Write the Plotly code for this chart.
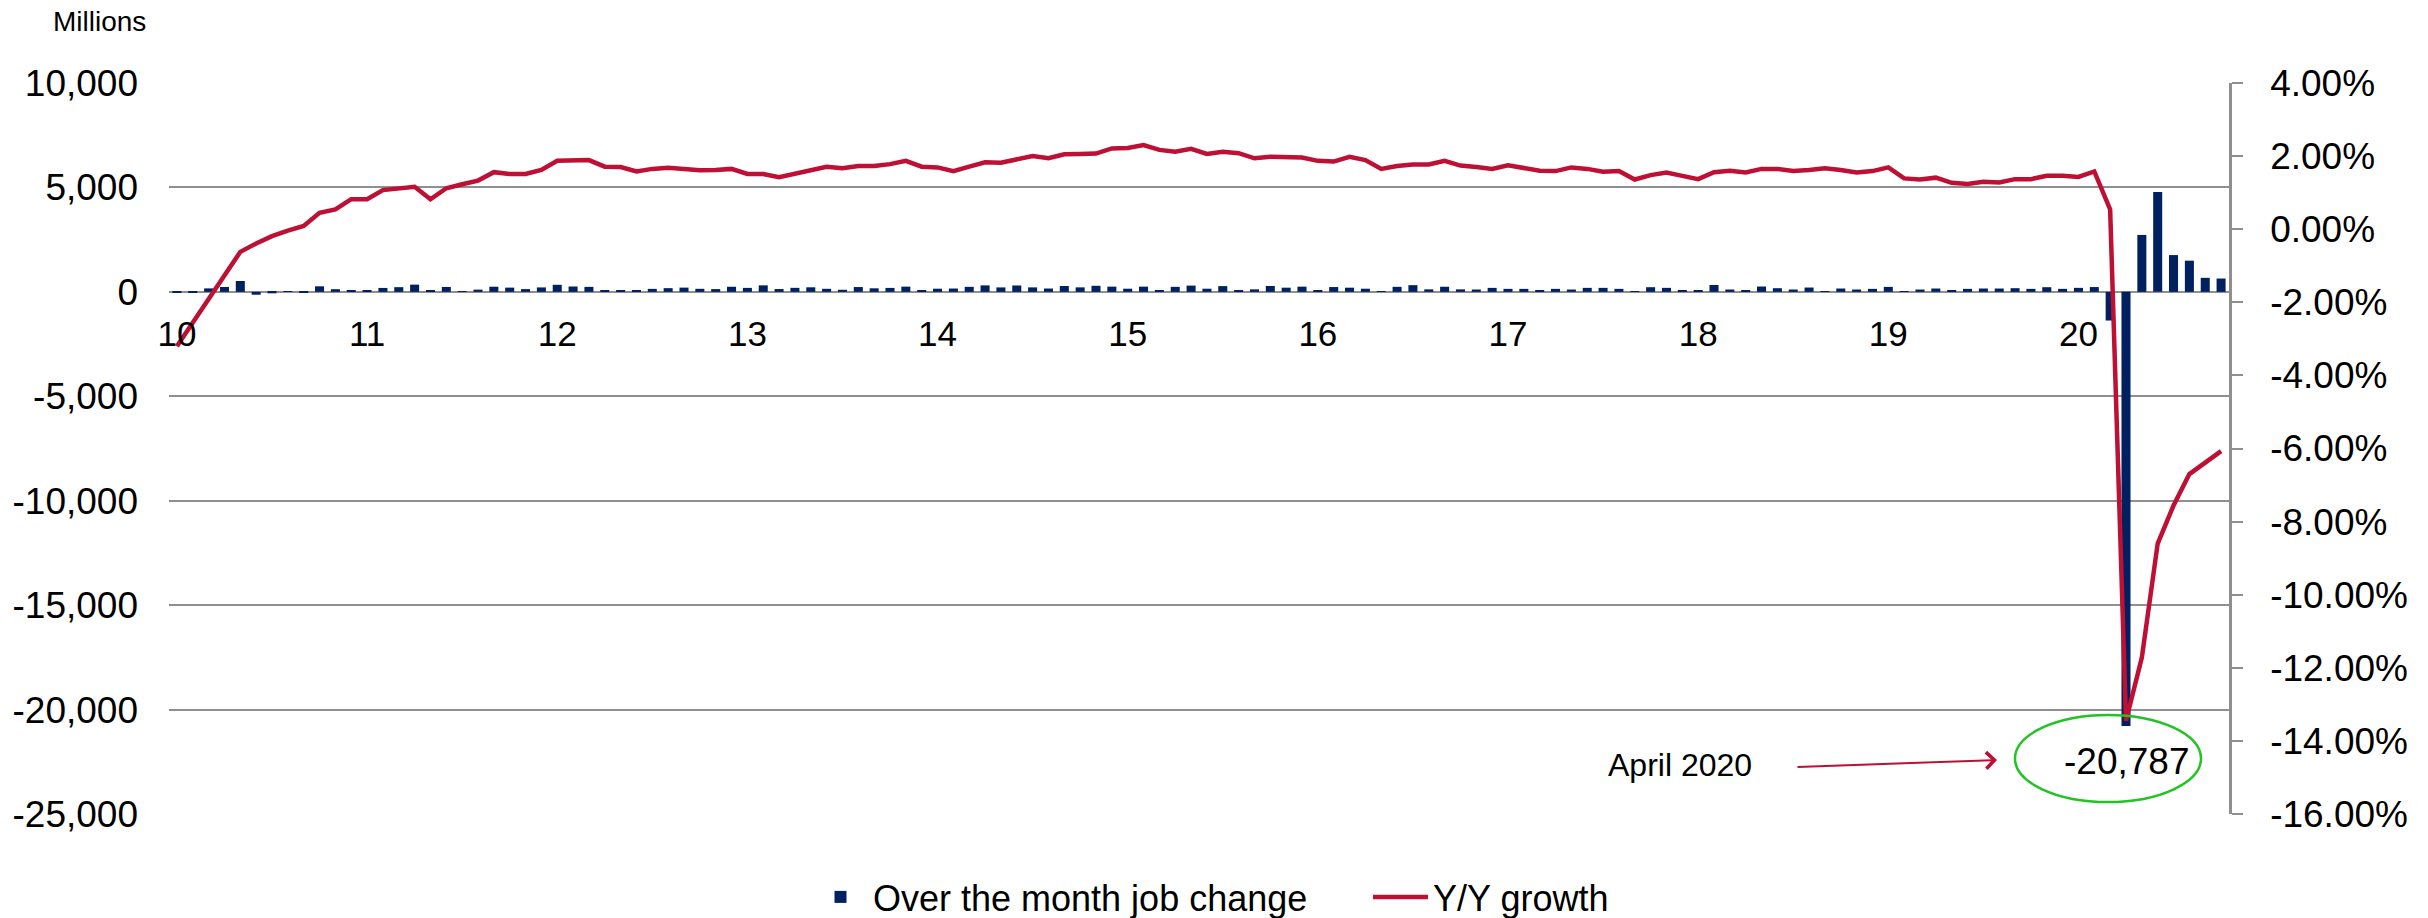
import plotly.graph_objects as go

# ---------------- data ----------------
YEAR_LABELS = ["10", "11", "12", "13", "14", "15", "16", "17", "18", "19", "20"]
YEAR_START_INDEX = [0, 12, 24, 36, 48, 60, 72, 84, 96, 108, 120]

# month index 0 = Jan 2010 ... 129 = Oct 2020
JOB_CHANGE = [
    # 2010
    -14, -39, 166, 234, 520, -137, -69, -4, -53, 265, 127, 88,
    # 2011
    42, 188, 225, 346, 73, 235, 40, 107, 246, 203, 132, 212,
    # 2012
    338, 257, 239, 75, 90, 87, 143, 177, 203, 146, 132, 244,
    # 2013
    190, 311, 135, 192, 218, 146, 100, 230, 170, 189, 250, 45,
    # 2014
    150, 160, 240, 310, 213, 306, 215, 160, 280, 215, 290, 250,
    # 2015
    150, 250, 50, 240, 300, 150, 275, 90, 120, 280, 200, 250,
    # 2016
    60, 230, 200, 150, 20, 240, 320, 120, 245, 120, 112, 190,
    # 2017
    143, 143, 80, 143, 112, 191, 191, 143, 18, 223, 191, 80,
    # 2018
    80, 330, 112, 80, 255, 175, 112, 207, 30, 160, 112, 143,
    # 2019
    239, 1, 112, 160, 50, 143, 160, 160, 175, 143, 223, 143,
    # 2020
    191, 230, -1373, -20787, 2725, 4781, 1761, 1493, 672, 638,
]

YOY_GROWTH = [
    # 2010
    -3.2, -2.55, -1.9, -1.25, -0.62, -0.39, -0.19, -0.04, 0.09, 0.45, 0.54, 0.82,
    # 2011
    0.82, 1.07, 1.12, 1.16, 0.82, 1.12, 1.23, 1.33, 1.56, 1.51, 1.51, 1.62,
    # 2012
    1.87, 1.89, 1.89, 1.71, 1.70, 1.58, 1.65, 1.68, 1.65, 1.61, 1.62, 1.65,
    # 2013
    1.51, 1.51, 1.42, 1.51, 1.62, 1.71, 1.67, 1.73, 1.73, 1.78, 1.87, 1.71,
    # 2014
    1.69, 1.59, 1.71, 1.83, 1.82, 1.92, 2.00, 1.94, 2.05, 2.06, 2.07, 2.21,
    # 2015
    2.22, 2.30, 2.17, 2.12, 2.20, 2.06, 2.12, 2.08, 1.94, 1.98, 1.96, 1.96,
    # 2016
    1.87, 1.85, 1.98, 1.89, 1.65, 1.73, 1.77, 1.77, 1.87, 1.74, 1.70, 1.65,
    # 2017
    1.75, 1.68, 1.60, 1.59, 1.69, 1.65, 1.57, 1.59, 1.36, 1.48, 1.55, 1.46,
    # 2018
    1.37, 1.56, 1.60, 1.55, 1.65, 1.65, 1.59, 1.62, 1.67, 1.62, 1.55, 1.59,
    # 2019
    1.69, 1.39, 1.36, 1.41, 1.27, 1.24, 1.30, 1.28, 1.37, 1.37, 1.46, 1.46,
    # 2020
    1.43, 1.58, 0.54, -13.45, -11.72, -8.6, -7.56, -6.70, -6.40, -6.07,
]

MONTH_INDEX = list(range(len(JOB_CHANGE)))

LEFT_TICK_VALUES = [-25000, -20000, -15000, -10000, -5000, 0, 5000, 10000]
LEFT_TICK_LABELS = ["-25,000", "-20,000", "-15,000", "-10,000", "-5,000", "0", "5,000", "10,000"]
RIGHT_TICK_VALUES = [-16, -14, -12, -10, -8, -6, -4, -2, 0, 2, 4]
RIGHT_TICK_LABELS = ["-16.00%", "-14.00%", "-12.00%", "-10.00%", "-8.00%", "-6.00%",
                     "-4.00%", "-2.00%", "0.00%", "2.00%", "4.00%"]

ANNOT_VALUE = "-20,787"
ANNOT_LABEL = "April 2020"

# ---------------- style ----------------
FONT = "Liberation Sans, Arial, sans-serif"
NAVY = "#002060"
RED = "#BE0F34"
GRID = "#8F8F8F"
GREEN = "#22C322"

W, H = 2428, 918
ML, MR, MT, MB = 169, 199, 83, 104
PW, PH = W - ML - MR, H - MT - MB


def px(xpix):
    return (xpix - ML) / PW


def py(ypix):
    return (H - MB - ypix) / PH


fig = go.Figure()
fig.add_trace(go.Bar(
    x=MONTH_INDEX, y=JOB_CHANGE, name="Over the month job change",
    marker=dict(color=NAVY, line=dict(width=0)), yaxis="y",
))
fig.add_trace(go.Scatter(
    x=MONTH_INDEX, y=YOY_GROWTH, name="Y/Y growth", mode="lines",
    line=dict(color=RED, width=4.5), yaxis="y2",
))

zero_pos = py(292)

fig.update_layout(
    width=W, height=H,
    margin=dict(l=ML, r=MR, t=MT, b=MB, pad=0, autoexpand=False),
    paper_bgcolor="white", plot_bgcolor="white",
    font=dict(family=FONT, color="black", size=36),
    bargap=0.43,
    showlegend=True,
    legend=dict(
        orientation="h", x=px(808), xanchor="left", y=py(897), yanchor="middle",
        font=dict(family=FONT, size=36, color="black"),
        itemwidth=55, entrywidth=490, bgcolor="rgba(0,0,0,0)",
    ),
    xaxis=dict(
        range=[-0.5, len(MONTH_INDEX) - 0.5],
        tickmode="array", tickvals=YEAR_START_INDEX, ticktext=YEAR_LABELS,
        tickfont=dict(family=FONT, size=35, color="black"),
        showgrid=False, zeroline=False, showline=False, ticks="",
        anchor="free", position=zero_pos, ticklabelstandoff=18,
    ),
    yaxis=dict(
        range=[-25000, 10000],
        tickmode="array", tickvals=LEFT_TICK_VALUES, ticktext=LEFT_TICK_LABELS,
        tickfont=dict(family=FONT, size=37, color="black"),
        showgrid=True, gridcolor=GRID, gridwidth=2,
        zeroline=False, showline=False, ticks="", ticklabelstandoff=30,
    ),
    yaxis2=dict(
        range=[-16, 4], overlaying="y", side="right", anchor="x",
        tickmode="array", tickvals=RIGHT_TICK_VALUES, ticktext=RIGHT_TICK_LABELS,
        tickfont=dict(family=FONT, size=37, color="black"),
        showgrid=False, zeroline=False,
        showline=True, linecolor=GRID, linewidth=2.5,
        ticks="outside", ticklen=11, tickwidth=2, tickcolor=GRID,
        ticklabelstandoff=20,
    ),
)

# Units label
fig.add_annotation(
    text="Millions", xref="paper", yref="paper", x=px(99), y=py(21),
    xanchor="center", yanchor="middle", showarrow=False,
    font=dict(family=FONT, size=28, color="black"),
)

# April 2020 label
fig.add_annotation(
    text=ANNOT_LABEL, xref="paper", yref="paper", x=px(1680), y=py(765),
    xanchor="center", yanchor="middle", showarrow=False,
    font=dict(family=FONT, size=32, color="black"),
)

# arrow
fig.add_annotation(
    text="", xref="paper", yref="paper", x=px(1997), y=py(760),
    ax=1796 - 1997, ay=767 - 760, axref="pixel", ayref="pixel",
    showarrow=True, arrowhead=4, arrowsize=1.6, arrowwidth=2, arrowcolor=RED,
)

# value label inside ellipse
fig.add_annotation(
    text=ANNOT_VALUE, xref="paper", yref="paper", x=px(2127), y=py(761),
    xanchor="center", yanchor="middle", showarrow=False,
    font=dict(family=FONT, size=37, color="black"),
)

fig.add_shape(
    type="circle", xref="paper", yref="paper",
    x0=px(2015), x1=px(2201), y0=py(802), y1=py(715),
    line=dict(color=GREEN, width=2.5), fillcolor="rgba(0,0,0,0)",
)

fig.write_html(
    "out.html",
    config={"displayModeBar": False},
    post_script="document.body.style.margin='0';document.body.style.overflow='hidden';",
)
